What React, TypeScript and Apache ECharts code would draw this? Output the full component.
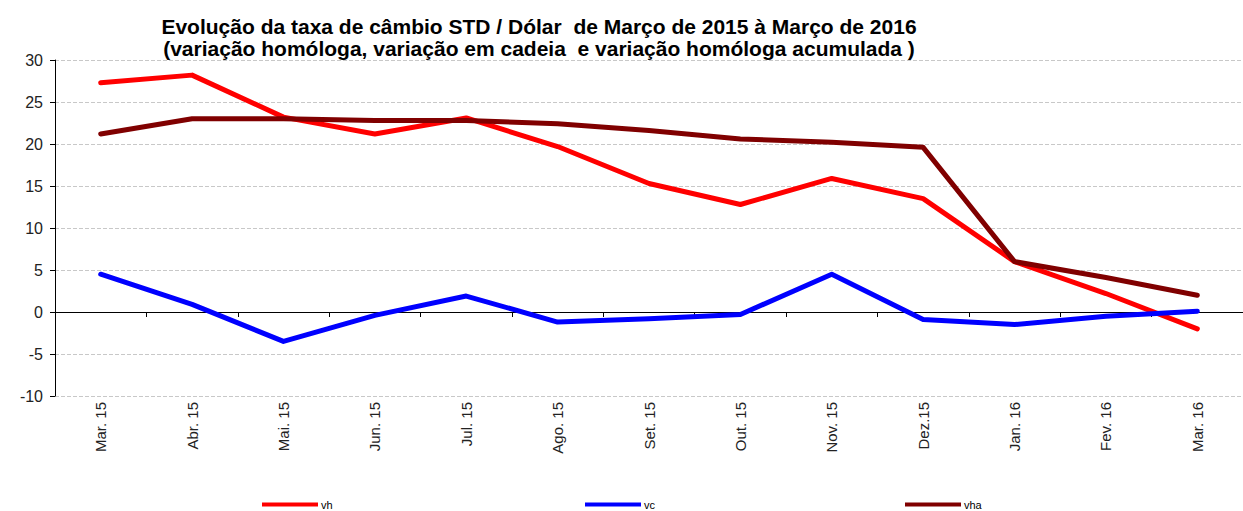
import React, { useEffect, useRef } from "react";
import * as echarts from "echarts";

const categories = ["Mar. 15", "Abr. 15", "Mai. 15", "Jun. 15", "Jul. 15", "Ago. 15", "Set. 15", "Out. 15", "Nov. 15", "Dez.15", "Jan. 16", "Fev. 16", "Mar. 16"];
const vh = [27.3, 28.2, 23.2, 21.2, 23.1, 19.7, 15.3, 12.8, 15.9, 13.5, 6.0, 2.2, -2.0];
const vc = [4.5, 0.9, -3.5, -0.4, 1.9, -1.2, -0.8, -0.3, 4.5, -0.9, -1.5, -0.5, 0.1];
const vha = [21.2, 23.0, 23.0, 22.8, 22.8, 22.4, 21.6, 20.6, 20.2, 19.6, 6.0, 4.1, 2.0];
const seriesNames = ["vh", "vc", "vha"];
const seriesColors = ["#FF0000", "#0000FF", "#800000"];
const titleText = "Evolução da taxa de câmbio STD / Dólar  de Março de 2015 à Março de 2016\n(variação homóloga, variação em cadeia  e variação homóloga acumulada )";

export default function App() {
  const ref = useRef<HTMLDivElement>(null);
  useEffect(() => {
    if (!ref.current) return;
    const chart = echarts.init(ref.current, null, { renderer: "svg" });
    const font = "'Liberation Sans', Arial, sans-serif";
    const data = [vh, vc, vha];
    const legendLefts = [262, 585, 905];
    chart.setOption({
      animation: false,
      backgroundColor: "#ffffff",
      textStyle: { fontFamily: font },
      title: {
        text: titleText,
        left: 534,
        textAlign: "center",
        top: 10,
        textStyle: { fontSize: 21, fontWeight: "bold", color: "#000", lineHeight: 22, fontFamily: font },
      },
      legend: seriesNames.map((n, i) => ({
        data: [n],
        left: legendLefts[i],
        top: 499,
        icon: "rect",
        itemWidth: 56,
        itemHeight: 4,
        itemGap: 4,
        padding: 0,
        textStyle: { fontSize: 11, color: "#000", fontFamily: font, padding: [0, 0, 0, -2] },
      })),
      grid: { left: 55, right: -8, top: 60, bottom: 115, containLabel: false },
      xAxis: [
        {
          type: "category",
          data: categories,
          boundaryGap: true,
          axisLine: { show: false, onZero: false },
          axisTick: { show: false },
          axisLabel: { rotate: 90, fontSize: 15, color: "#222", margin: 6, interval: 0, fontFamily: font },
        },
        {
          type: "category",
          data: categories,
          boundaryGap: true,
          position: "bottom",
          axisLine: { show: true, onZero: true, lineStyle: { color: "#000", width: 1 } },
          axisTick: { show: true, length: 5, inside: false, lineStyle: { color: "#000" } },
          axisLabel: { show: false },
        },
      ],
      yAxis: {
        type: "value",
        min: -10,
        max: 30,
        interval: 5,
        axisLine: { show: true, lineStyle: { color: "#000", width: 1 } },
        axisTick: { show: true, length: 5, lineStyle: { color: "#000" } },
        axisLabel: { fontSize: 16, color: "#222", margin: 12, fontFamily: font },
        splitLine: { show: true, lineStyle: { color: "#c8c8c8", type: "dashed", width: 1 } },
      },
      series: seriesNames.map((n, i) => ({
        name: n,
        type: "line",
        xAxisIndex: 0,
        data: data[i],
        symbol: "none",
        color: seriesColors[i],
        lineStyle: { width: 5, color: seriesColors[i], cap: "round", join: "round" },
        itemStyle: { color: seriesColors[i] },
        z: i === 1 ? 4 : 3,
      })),
    });
    return () => chart.dispose();
  }, []);
  return <div ref={ref} style={{ position: "absolute", left: 0, top: 0, width: 1243, height: 511 }} />;
}
